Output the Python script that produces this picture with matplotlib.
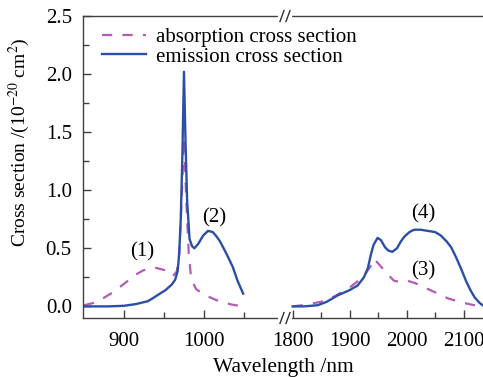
import numpy as np
import matplotlib
matplotlib.use("Agg")
import matplotlib.pyplot as plt
from matplotlib.ticker import FixedLocator, MultipleLocator

# absorption / emission cross sections, 1 um band
wl_abs_1 = [850, 862, 874, 888, 903, 914, 924, 938, 952, 961, 966, 969, 972, 975,
            978, 981, 984, 990, 1000, 1007, 1015, 1024, 1035, 1049]
abs_1 = [0.01, 0.03, 0.07, 0.13, 0.21, 0.27, 0.31, 0.335, 0.31, 0.26, 0.30, 0.45, 0.9, 1.45,
         0.9, 0.45, 0.24, 0.15, 0.10, 0.08, 0.055, 0.035, 0.015, 0.0]
wl_em_1 = [850, 880, 900, 915, 930, 936, 945, 952, 960, 964, 967, 969, 971, 973, 975,
           977, 979, 982, 985, 988, 993, 999, 1005, 1011, 1016, 1020, 1028, 1036, 1042, 1049]
em_1 = [0.0, 0.0, 0.005, 0.02, 0.045, 0.07, 0.11, 0.14, 0.19, 0.23, 0.30, 0.45, 0.75, 1.3, 2.02,
        1.4, 0.9, 0.58, 0.52, 0.50, 0.54, 0.61, 0.65, 0.64, 0.60, 0.56, 0.455, 0.34, 0.22, 0.11]

# 2 um band
wl_abs_2 = [1800, 1825, 1850, 1875, 1902, 1915, 1926, 1936, 1943, 1950, 1961, 1970, 1978,
            1990, 2002, 2015, 2037, 2055, 2072, 2095, 2119, 2136]
abs_2 = [0.0, 0.015, 0.04, 0.09, 0.17, 0.22, 0.27, 0.34, 0.41, 0.37, 0.31, 0.26, 0.22,
         0.21, 0.22, 0.20, 0.15, 0.11, 0.07, 0.035, 0.01, 0.0]
wl_em_2 = [1800, 1820, 1844, 1860, 1879, 1900, 1914, 1925, 1932, 1937, 1942, 1949, 1955, 1962,
           1968, 1975, 1983, 1990, 1996, 2005, 2013, 2025, 2037, 2050, 2060, 2070, 2078, 2087,
           2095, 2105, 2112, 2119, 2128, 2136]
em_2 = [0.0, 0.0, 0.01, 0.04, 0.095, 0.14, 0.18, 0.25, 0.33, 0.44, 0.53, 0.59, 0.57, 0.51,
        0.48, 0.47, 0.50, 0.56, 0.60, 0.64, 0.66, 0.66, 0.65, 0.64, 0.61, 0.56, 0.51, 0.42,
        0.33, 0.21, 0.14, 0.08, 0.03, 0.0]

peak_labels = ["(1)", "(2)", "(3)", "(4)"]
peak_x = [923, 1013, 2030, 2030]
peak_y = [0.47, 0.76, 0.31, 0.80]

x_major = [900, 1000, 1800, 1900, 2000, 2100]
x_minor = [950, 1050, 1850, 1950, 2050]

plt.rcParams["font.family"] = ["Liberation Serif", "DejaVu Serif"]
plt.rcParams["mathtext.fontset"] = "stix"


# broken wavelength axis: compress the empty 1050-1800 gap
def fwd(x):
    x = np.asarray(x, dtype=float)
    return np.where(x <= 1050, x * 0.8,
                    np.where(x >= 1800, 888.7 + (x - 1800) * 0.57,
                             840 + (x - 1050) * 48.7 / 750))


def inv(u):
    u = np.asarray(u, dtype=float)
    return np.where(u <= 840, u / 0.8,
                    np.where(u >= 888.7, 1800 + (u - 888.7) / 0.57,
                             1050 + (u - 840) * 750 / 48.7))


blue = "#2c4fa6"
purple = "#b35cb5"

fig = plt.figure(figsize=(4.83, 3.77), dpi=100)
ax = fig.add_axes([0.1718, 0.1565, 1 - 0.1718, 0.801])
ax.set_xscale("function", functions=(fwd, inv))

ax.plot(wl_abs_1, abs_1, color=purple, lw=1.6, dashes=(4.6, 4.6),
        label="absorption cross section")
ax.plot(wl_em_1, em_1, color=blue, lw=1.7, label="emission cross section")
ax.plot(wl_abs_2, abs_2, color=purple, lw=1.6, dashes=(4.6, 4.6))
ax.plot(wl_em_2, em_2, color=blue, lw=1.7)

for t, x, y in zip(peak_labels, peak_x, peak_y):
    ax.text(x, y, t, ha="center", va="center", fontsize=15)

ax.set_xlim(848.75, 2134)
ax.set_ylim(-0.1, 2.5)
ax.xaxis.set_major_locator(FixedLocator(x_major))
ax.xaxis.set_minor_locator(FixedLocator(x_minor))
ax.yaxis.set_major_locator(MultipleLocator(0.5))
ax.yaxis.set_minor_locator(MultipleLocator(0.25))
ax.xaxis.set_major_formatter(plt.FuncFormatter(lambda v, p: f"{v:.0f}"))
ax.tick_params(which="both", direction="in", top=False, right=False,
               labelsize=15, color="#404040", width=1.0)
ax.tick_params(which="major", length=6)
ax.tick_params(which="minor", length=4)
ax.tick_params(axis="x", which="major", pad=10)
ax.tick_params(axis="y", which="major", pad=8)

for side in ["left", "bottom", "top"]:
    ax.spines[side].set_color("#404040")
    ax.spines[side].set_linewidth(1.0)
ax.spines["right"].set_visible(False)

# break marks on top and bottom spines
for yb in (0.0, 1.0):
    ax.plot([0.4925, 0.5175], [yb, yb], color="white", lw=3,
            transform=ax.transAxes, clip_on=False, zorder=5)
    for xb in (0.4975, 0.5125):
        ax.plot([xb - 0.005, xb + 0.005], [yb - 0.018, yb + 0.018],
                color="#303030", lw=1.0, transform=ax.transAxes,
                clip_on=False, zorder=6)

ax.set_xlabel("Wavelength /nm", fontsize=15.5, labelpad=5)
ax.set_ylabel(r"Cross section /(10$^{-20}$ cm$^{2}$)", fontsize=14)
ax.yaxis.set_label_coords(-0.127, 0.583)

ax.legend(loc="upper left", bbox_to_anchor=(0.02, 1.0), frameon=False,
          fontsize=15, handlelength=2.1, handletextpad=0.45,
          labelspacing=0.0, borderaxespad=0.15)

fig.savefig("out.png", dpi=100)
